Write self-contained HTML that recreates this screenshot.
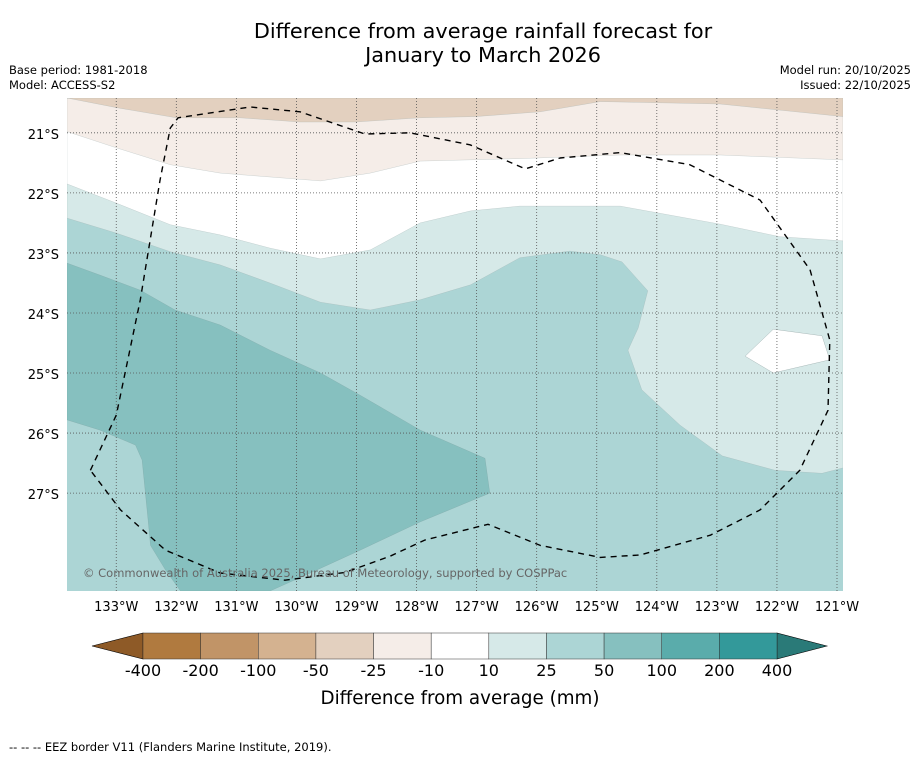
<!DOCTYPE html>
<html><head><meta charset="utf-8"><style>
body{margin:0;background:#fff;font-family:"Liberation Sans","DejaVu Sans",sans-serif;}
#wrap{position:relative;width:919px;height:758px;overflow:hidden;background:#fff}
.t{position:absolute;white-space:nowrap;color:#000}
</style></head><body>
<div id="wrap">
<div class="t" style="left:0;width:966px;text-align:center;top:19px;font-size:20.8px;line-height:24px;font-family:'DejaVu Sans',sans-serif">Difference from average rainfall forecast for<br>January to March 2026</div>
<div class="t" style="left:9px;top:63px;font-size:11.5px;font-family:'DejaVu Sans',sans-serif">Base period: 1981-2018</div>
<div class="t" style="left:9px;top:78px;font-size:11.5px;font-family:'DejaVu Sans',sans-serif">Model: ACCESS-S2</div>
<div class="t" style="right:8px;top:63px;font-size:11.5px;font-family:'DejaVu Sans',sans-serif">Model run: 20/10/2025</div>
<div class="t" style="right:8px;top:78px;font-size:11.5px;font-family:'DejaVu Sans',sans-serif">Issued: 22/10/2025</div>
<svg id="map" width="919" height="758" style="position:absolute;left:0;top:0"></svg>
<div class="t" style="left:9px;top:740px;font-size:11.5px;font-family:'DejaVu Sans',sans-serif">--  --  -- EEZ border V11 (Flanders Marine Institute, 2019).</div>
</div>
<script>
const lonTicks=[133,132,131,130,129,128,127,126,125,124,123,122,121];
const latTicks=[21,22,23,24,25,26,27];
const cbLabels=["-400","-200","-100","-50","-25","-10","10","25","50","100","200","400"];
const cbColors=["#b07a3f","#c19467","#d4b290","#e3d0bf","#f5ede8","#ffffff","#d6e9e8","#acd5d5","#86c0bf","#5aacab","#33999a"];
const brownLon=[133.82,133,132.0,130.94,129.94,129.02,127.94,127.02,125.94,124.94,122.95,120.9];
const brownLat=[20.42,20.58,20.75,20.75,20.82,20.82,20.75,20.73,20.65,20.48,20.52,20.73];
const lightLon=[133.82,133,132.1,131.27,129.6,128.77,127.94,126.28,124.61,122.95,120.9];
const lightLat=[20.98,21.25,21.53,21.67,21.8,21.67,21.47,21.43,21.37,21.37,21.45];
const whiteLon=[133.82,133,132.1,131.27,130.44,129.6,128.77,127.94,127.1,126.28,124.61,122.95,121.95,120.9];
const whiteLat=[21.85,22.17,22.53,22.7,22.92,23.1,22.95,22.5,22.3,22.22,22.22,22.52,22.73,22.8];
const islandLon=[122.53,122.06,121.25,121.12,122.06];
const islandLat=[24.72,24.27,24.38,24.78,25.0];
const lowLon=[133.82,133,132.1,131.27,130.44,129.6,128.77,127.94,127.1,126.28,125.45,124.94,124.58,124.15,124.31,124.48,124.25,123.61,122.91,122.03,121.25,120.9];
const lowLat=[22.42,22.67,22.98,23.2,23.5,23.82,23.95,23.78,23.53,23.08,22.97,23.03,23.15,23.63,24.25,24.62,25.28,25.87,26.38,26.62,26.67,26.58];
const hiLon=[133.82,133.27,132.6,132.02,131.27,130.44,129.6,128.94,127.94,126.86,126.78,127.94,128.94,129.77,130.44,131.93,132.18,132.43,132.47,132.57,132.68,133.27,133.82];
const hiLat=[23.17,23.37,23.62,23.95,24.2,24.62,25,25.37,25.95,26.42,27.0,27.48,27.95,28.33,28.63,28.63,28.28,27.87,27.45,26.45,26.2,25.95,25.78];
const eezLon=[133.43,133,132.6,132.27,132.1,131.97,130.77,129.94,128.86,128.11,127.11,126.19,125.61,124.61,123.45,122.28,121.45,121.12,121.15,121.62,122.28,123.11,124.28,124.94,125.94,126.81,127.86,128.44,129.19,130.19,131.27,132.18,132.93,133.43];
const eezLat=[26.62,25.7,23.78,21.78,20.92,20.75,20.57,20.65,21.02,21.0,21.2,21.6,21.42,21.33,21.53,22.12,23.28,24.45,25.62,26.62,27.28,27.7,28.03,28.07,27.87,27.52,27.78,28.05,28.32,28.45,28.33,27.95,27.28,26.62];

const X0=67,X1=843,Y0=98,Y1=591;
const LON_L=133.82,LON_R=120.9,LAT_T=20.42,LAT_B=28.63;
const xS=lon=>X0+(LON_L-lon)/(LON_L-LON_R)*(X1-X0);
const yS=lat=>Y0+(lat-LAT_T)/(LAT_B-LAT_T)*(Y1-Y0);
const NS="http://www.w3.org/2000/svg";
const svg=document.getElementById('map');
function mk(t,a,p){const e=document.createElementNS(NS,t);for(const k in a)e.setAttribute(k,a[k]);(p||svg).appendChild(e);return e;}
const defs=mk('defs',{});const cp=mk('clipPath',{id:'cp'},defs);mk('rect',{x:X0,y:Y0,width:X1-X0,height:Y1-Y0},cp);
const g=mk('g',{'clip-path':'url(#cp)'});
function pts(lons,lats){return lons.map((l,i)=>xS(l).toFixed(1)+','+yS(lats[i]).toFixed(1));}
let e=mk('rect',{x:X0,y:Y0,width:X1-X0,height:Y1-Y0,fill:'#acd5d5'},g);


function topPoly(lons,lats,fill,name){
  const p=[X0+','+Y0].concat(pts(lons,lats)).concat([X1+','+Y0]);
  const el=mk('polygon',{points:p.join(' '),fill:fill,stroke:'#9aa',"stroke-width":0.4,'stroke-opacity':0.6},g);
  
  
}
e=mk('polygon',{points:pts(hiLon,hiLat).join(' '),fill:'#86c0bf',stroke:'#799','stroke-width':0.4,'stroke-opacity':0.6},g);


topPoly(lowLon,lowLat,'#d6e9e8','region-10-25');
topPoly(whiteLon,whiteLat,'#ffffff','region-neutral');
e=mk('polygon',{points:pts(islandLon,islandLat).join(' '),fill:'#ffffff',stroke:'#9aa','stroke-width':0.4},g);


topPoly(lightLon,lightLat,'#f5ede8','region-minus10-25');
topPoly(brownLon,brownLat,'#e3d0bf','region-minus25-50');
lonTicks.forEach(l=>{const x=xS(l);
  const ln=mk('line',{x1:x,x2:x,y1:Y0,y2:Y1,stroke:'#555','stroke-width':0.8,'stroke-dasharray':'1,2'},g);
  
  
  const t=mk('text',{x:x,y:Y1+20,'text-anchor':'middle','font-size':13,'font-family':'DejaVu Sans, sans-serif'});t.textContent=l+'°W';
  
  
});
latTicks.forEach(l=>{const y=yS(l);
  const ln=mk('line',{x1:X0,x2:X1,y1:y,y2:y,stroke:'#555','stroke-width':0.8,'stroke-dasharray':'1,2'},g);
  
  
  const t=mk('text',{x:X0-8,y:y+6,'text-anchor':'end','font-size':13,'font-family':'DejaVu Sans, sans-serif'});t.textContent=l+'°S';
  
  
});
e=mk('polyline',{points:pts(eezLon,eezLat).join(' '),fill:'none',stroke:'#000','stroke-width':1.4,'stroke-dasharray':'6,5','stroke-linejoin':'round'},g);


e=mk('text',{x:83,y:577,'font-size':11.5,fill:'#666','font-family':'DejaVu Sans, sans-serif'});
e.textContent='© Commonwealth of Australia 2025, Bureau of Meteorology, supported by COSPPac';


const CB0=143,CB1=777,CBY=633,CBH=26,n=cbColors.length,w=(CB1-CB0)/n;
e=mk('polygon',{points:`92,${CBY+CBH/2} ${CB0},${CBY} ${CB0},${CBY+CBH}`,fill:'#8e5a27',stroke:'#000','stroke-width':0.6});


e=mk('polygon',{points:`827,${CBY+CBH/2} ${CB1},${CBY} ${CB1},${CBY+CBH}`,fill:'#2a7a78',stroke:'#000','stroke-width':0.6});


cbColors.forEach((c,i)=>{const r=mk('rect',{x:CB0+i*w,y:CBY,width:w,height:CBH,fill:c,stroke:'#333','stroke-width':0.5});
  
  });
cbLabels.forEach((s,i)=>{const t=mk('text',{x:CB0+i*w,y:676,'text-anchor':'middle','font-size':16,'font-family':'DejaVu Sans, sans-serif'});t.textContent=s;
  
  });
e=mk('text',{x:460,y:704,'text-anchor':'middle','font-size':18.3,'font-family':'DejaVu Sans, sans-serif'});
e.textContent='Difference from average (mm)';


</script>
</body></html>
